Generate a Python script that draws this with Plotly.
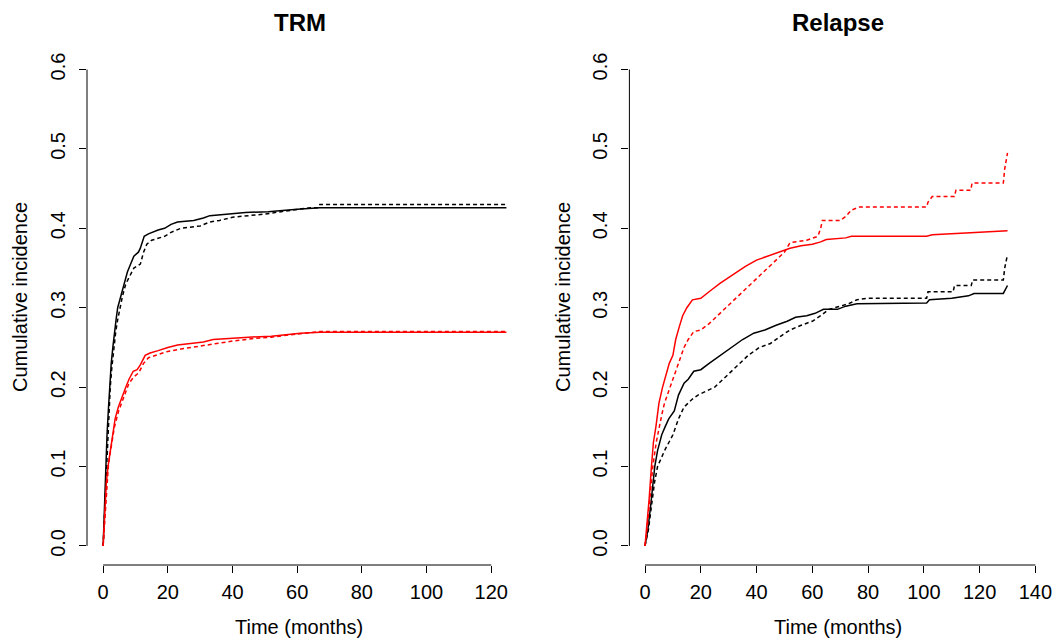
import plotly.graph_objects as go

# ---------------- data ----------------
# TRM panel
trm_black_solid_t = [0, 0.4, 0.8, 1.2, 1.6, 2.0, 2.5, 3.0, 3.5, 4.0, 4.5, 5.5, 6.5, 7.5, 8.5, 9.5, 10.9, 11.5, 12.7, 14, 17, 19, 21, 23, 28, 31, 33, 38.7, 44, 51, 56, 60, 67, 124.7]
trm_black_solid_v = [0, 0.05, 0.10, 0.14, 0.17, 0.20, 0.23, 0.25, 0.27, 0.285, 0.30, 0.315, 0.33, 0.345, 0.355, 0.365, 0.37, 0.375, 0.39, 0.393, 0.398, 0.40, 0.405, 0.408, 0.41, 0.413, 0.416, 0.418, 0.42, 0.421, 0.423, 0.424, 0.426, 0.426]

trm_black_dash_t = [0, 0.5, 1.0, 1.4, 1.8, 2.2, 2.7, 3.3, 3.9, 4.5, 5.2, 6.0, 7.0, 8.2, 9.5, 11.5, 12.5, 13.5, 15, 19, 21, 24, 30, 33, 36, 40, 45, 50, 55, 60, 64, 66.5, 67, 124.7]
trm_black_dash_v = [0, 0.05, 0.10, 0.14, 0.17, 0.20, 0.225, 0.25, 0.27, 0.285, 0.30, 0.315, 0.33, 0.34, 0.35, 0.355, 0.37, 0.38, 0.385, 0.39, 0.395, 0.40, 0.403, 0.408, 0.41, 0.414, 0.416, 0.418, 0.421, 0.424, 0.426, 0.426, 0.43, 0.43]

trm_red_solid_t = [0, 0.5, 1.0, 1.5, 2.0, 2.5, 3.0, 3.7, 4.7, 6.0, 7.0, 8.0, 9.3, 10.5, 11.5, 13, 14.5, 17, 20, 23, 27, 31, 34, 40, 45, 52, 57, 61, 67, 124.7]
trm_red_solid_v = [0, 0.04, 0.08, 0.10, 0.115, 0.125, 0.14, 0.16, 0.175, 0.19, 0.20, 0.21, 0.22, 0.222, 0.228, 0.24, 0.243, 0.246, 0.25, 0.253, 0.255, 0.257, 0.26, 0.262, 0.263, 0.264, 0.266, 0.268, 0.269, 0.269]

trm_red_dash_t = [0, 0.6, 1.1, 1.6, 2.1, 2.7, 3.5, 4.8, 6.5, 8.0, 9.5, 11, 12.5, 14, 17, 20, 24, 30, 35, 40, 46, 52, 58, 62, 67, 124.7]
trm_red_dash_v = [0, 0.04, 0.08, 0.10, 0.115, 0.13, 0.15, 0.17, 0.19, 0.205, 0.213, 0.218, 0.23, 0.237, 0.241, 0.245, 0.248, 0.252, 0.255, 0.258, 0.261, 0.263, 0.266, 0.268, 0.27, 0.27]

# Relapse panel
rel_red_solid_t = [0, 0.8, 1.5, 2.3, 3.0, 3.9, 5.0, 6.3, 7.5, 8.7, 10, 11, 12.2, 13.5, 15, 17, 20, 22, 24, 27, 30, 33, 36, 40, 44, 48, 52, 56, 60, 63, 65, 72, 74, 101, 103, 115, 127, 130]
rel_red_solid_v = [0, 0.03, 0.06, 0.10, 0.13, 0.15, 0.18, 0.20, 0.215, 0.23, 0.24, 0.26, 0.275, 0.29, 0.30, 0.31, 0.312, 0.317, 0.323, 0.331, 0.338, 0.345, 0.352, 0.36, 0.365, 0.37, 0.375, 0.378, 0.38, 0.383, 0.386, 0.388, 0.39, 0.39, 0.392, 0.394, 0.396, 0.397]

rel_red_dash_t = [0, 1.0, 2.0, 2.8, 4.0, 5.0, 6.0, 7.0, 9.0, 11, 12.5, 14, 15.5, 17.5, 20, 23, 26, 29, 32, 35, 38, 41, 44, 47, 50, 52, 58, 62, 63, 63.6, 70, 72, 74, 77, 101, 101.5, 103, 111, 111.5, 116.8, 117.3, 128.5, 129, 130]
rel_red_dash_v = [0, 0.03, 0.07, 0.10, 0.13, 0.15, 0.165, 0.18, 0.20, 0.22, 0.235, 0.25, 0.26, 0.27, 0.272, 0.28, 0.29, 0.30, 0.31, 0.32, 0.33, 0.34, 0.35, 0.36, 0.37, 0.382, 0.385, 0.39, 0.40, 0.41, 0.41, 0.415, 0.423, 0.427, 0.427, 0.433, 0.44, 0.44, 0.448, 0.448, 0.457, 0.457, 0.475, 0.495]

rel_black_solid_t = [0, 1.0, 2.0, 2.8, 3.5, 4.5, 6.0, 7.2, 8.5, 10.5, 12, 14, 15.5, 17.5, 20, 23, 27, 31, 35, 39, 43, 47, 51, 54, 58, 61, 64, 69, 72, 76, 101, 102, 110, 116, 118, 128.5, 129, 130]
rel_black_solid_v = [0, 0.02, 0.05, 0.08, 0.10, 0.12, 0.14, 0.15, 0.16, 0.17, 0.19, 0.205, 0.21, 0.22, 0.222, 0.23, 0.24, 0.25, 0.26, 0.268, 0.272, 0.278, 0.283, 0.288, 0.29, 0.293, 0.298, 0.298, 0.302, 0.305, 0.306, 0.31, 0.312, 0.315, 0.318, 0.318, 0.322, 0.328]

rel_black_dash_t = [0, 1.2, 2.3, 3.4, 4.5, 5.7, 7.0, 8.5, 10, 12, 14, 17, 19, 22, 25, 28, 31, 34, 37, 41, 45, 49, 52, 56, 60, 63, 66, 70, 73, 76, 80, 101, 101.5, 110.5, 111, 117, 117.5, 128.5, 129, 130]
rel_black_dash_v = [0, 0.02, 0.05, 0.08, 0.10, 0.11, 0.12, 0.13, 0.14, 0.16, 0.175, 0.185, 0.19, 0.195, 0.20, 0.21, 0.22, 0.23, 0.24, 0.25, 0.255, 0.265, 0.272, 0.278, 0.283, 0.29, 0.298, 0.302, 0.305, 0.31, 0.312, 0.312, 0.32, 0.32, 0.328, 0.328, 0.335, 0.335, 0.35, 0.367]

titles = ["TRM", "Relapse"]
x_title = "Time (months)"
y_title = "Cumulative incidence"
x_ticks_left = [0, 20, 40, 60, 80, 100, 120]
x_ticks_right = [0, 20, 40, 60, 80, 100, 120, 140]
y_ticks = [0.0, 0.1, 0.2, 0.3, 0.4, 0.5, 0.6]

# ---------------- figure ----------------
W, H = 1060, 643
FONT = "Liberation Sans, Arial, Helvetica, sans-serif"
fig = go.Figure()

def add(t, v, color, dash, xa, ya):
    fig.add_trace(go.Scatter(x=t, y=v, mode="lines", line_shape="linear",
                             line=dict(color=color, width=1.5, dash=dash),
                             xaxis=xa, yaxis=ya, showlegend=False, hoverinfo="skip"))

DASH = "4px,3px"
add(trm_black_dash_t, trm_black_dash_v, "black", DASH, "x", "y")
add(trm_black_solid_t, trm_black_solid_v, "black", "solid", "x", "y")
add(trm_red_dash_t, trm_red_dash_v, "#ff0000", DASH, "x", "y")
add(trm_red_solid_t, trm_red_solid_v, "#ff0000", "solid", "x", "y")

add(rel_black_dash_t, rel_black_dash_v, "black", DASH, "x2", "y2")
add(rel_black_solid_t, rel_black_solid_v, "black", "solid", "x2", "y2")
add(rel_red_dash_t, rel_red_dash_v, "#ff0000", DASH, "x2", "y2")
add(rel_red_solid_t, rel_red_solid_v, "#ff0000", "solid", "x2", "y2")

ydom = [(643 - 565) / H, (643 - 50.5) / H]
yrange = [-0.024, 0.624]
tickfont = dict(family=FONT, size=20, color="black")

common_x = dict(showgrid=False, zeroline=False, showline=False, ticks="outside",
                ticklen=7, tickwidth=1, tickcolor="black", tickfont=tickfont,
                ticklabelstandoff=2)
common_y = dict(showgrid=False, zeroline=False, showline=False, ticks="outside",
                ticklen=7, tickwidth=1, tickcolor="black", tickfont=tickfont,
                tickangle=-90, tickvals=y_ticks, ticktext=[f"{v:.1f}" for v in y_ticks],
                range=yrange, ticklabelstandoff=6)

fig.update_layout(
    width=W, height=H, margin=dict(l=0, r=0, t=0, b=0),
    paper_bgcolor="white", plot_bgcolor="white",
    xaxis=dict(domain=[87 / W, 522.6 / W], range=[-4.99, 129.7], anchor="y",
               tickvals=x_ticks_left, **common_x),
    yaxis=dict(domain=ydom, anchor="x", **common_y),
    xaxis2=dict(domain=[629.4 / W, 1051 / W], range=[-5.6, 145.6], anchor="y2",
                tickvals=x_ticks_right, **common_x),
    yaxis2=dict(domain=ydom, anchor="x2", **common_y),
)

# R-style axis lines spanning only the tick range
for xa, ya, xt in [("x", "y", x_ticks_left), ("x2", "y2", x_ticks_right)]:
    fig.add_shape(type="line", xref=xa, yref=f"{ya} domain", x0=xt[0], x1=xt[-1], y0=0, y1=0,
                  line=dict(color="black", width=1))
    fig.add_shape(type="line", xref=f"{xa} domain", yref=ya, x0=0, x1=0, y0=y_ticks[0], y1=y_ticks[-1],
                  line=dict(color="black", width=1))

# titles and axis labels
for cx, title in [(300, titles[0]), (838, titles[1])]:
    fig.add_annotation(x=cx / W, y=1 - 22 / H, xref="paper", yref="paper", text=f"<b>{title}</b>",
                       showarrow=False, font=dict(family=FONT, size=24, color="black"),
                       xanchor="center", yanchor="middle")
for cx in [299, 838]:
    fig.add_annotation(x=cx / W, y=1 - 627 / H, xref="paper", yref="paper", text=x_title,
                       showarrow=False, font=dict(family=FONT, size=20, color="black"),
                       xanchor="center", yanchor="middle")
for cx in [20, 563]:
    fig.add_annotation(x=cx / W, y=1 - 297 / H, xref="paper", yref="paper", text=y_title,
                       showarrow=False, textangle=-90, font=dict(family=FONT, size=20, color="black"),
                       xanchor="center", yanchor="middle")

fig.write_html("out.html", config={"displayModeBar": False},
               post_script="document.body.style.margin='0';document.body.style.overflow='hidden';")
